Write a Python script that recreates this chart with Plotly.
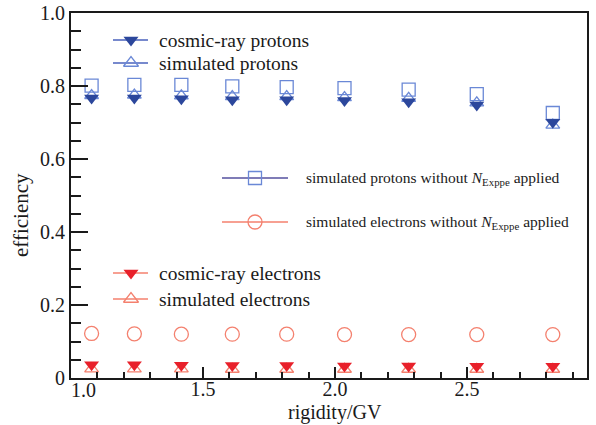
import plotly.graph_objects as go

# ---- data ----
rigidity = [1.078, 1.240, 1.418, 1.611, 1.817, 2.036, 2.279, 2.537, 2.825]
cr_protons = [0.767, 0.767, 0.765, 0.762, 0.762, 0.760, 0.757, 0.748, 0.701]
sim_protons = [0.774, 0.775, 0.773, 0.771, 0.771, 0.768, 0.766, 0.754, 0.693]
sim_protons_noN = [0.801, 0.803, 0.803, 0.799, 0.797, 0.794, 0.790, 0.778, 0.726]
cr_electrons = [0.036, 0.036, 0.035, 0.034, 0.034, 0.033, 0.033, 0.032, 0.032]
sim_electrons = [0.025, 0.025, 0.025, 0.024, 0.024, 0.024, 0.024, 0.024, 0.024]
sim_electrons_noN = [0.122, 0.121, 0.120, 0.120, 0.120, 0.119, 0.119, 0.119, 0.119]

x_ticks = [1.5, 2.0, 2.5]
x_ticktext = ["1.5", "2.0", "2.5"]
x_first_label = "1.0"
y_ticks = [0, 0.2, 0.4, 0.6, 0.8, 1.0]
y_ticktext = ["0", "0.2", "0.4", "0.6", "0.8", "1.0"]

BLUE_D = "#2c479c"
BLUE_L = "#6a88d6"
BLUE_LINE = "#4a62bc"
PURPLE_LINE = "#54519f"
RED_D = "#e8202a"
SALMON = "#f4806e"
SERIF = "'Liberation Serif', 'Times New Roman', serif"
TXT = "#1a1a1a"

W, H = 596, 425
L, R, T, B = 71, 587, 13, 378


def px(xp):
    return (xp - L) / (R - L)


def py(yp):
    return (B - yp) / (B - T)


fig = go.Figure()

series = [
    (sim_protons_noN, dict(symbol="square-open", size=13, color=BLUE_L, line=dict(width=1.3))),
    (sim_electrons_noN, dict(symbol="circle-open", size=14, color=SALMON, line=dict(width=1.3))),
    (sim_protons, dict(symbol="triangle-up-open", size=12, color=BLUE_L, line=dict(width=1.3))),
    (cr_protons, dict(symbol="triangle-down", size=13, color=BLUE_D)),
    (sim_electrons, dict(symbol="triangle-up-open", size=12, color=SALMON, line=dict(width=1.3))),
    (cr_electrons, dict(symbol="triangle-down", size=13, color=RED_D)),
]
for ys, mk in series:
    fig.add_trace(go.Scatter(x=rigidity, y=ys, mode="markers", marker=mk,
                             showlegend=False, cliponaxis=False))

# ---- legend glyphs on a pixel overlay axis ----
legend_items = [
    (113, 148, 131, 40, 157, dict(symbol="triangle-down", size=13, color=BLUE_D), BLUE_LINE,
     "cosmic-ray protons", 19.5),
    (113, 148, 131, 63, 157, dict(symbol="triangle-up-open", size=13, color=BLUE_L, line=dict(width=1.3)), BLUE_LINE,
     "simulated protons", 19.5),
    (222, 288, 255, 178, 304, dict(symbol="square-open", size=13, color=BLUE_L, line=dict(width=1.3)), PURPLE_LINE,
     "simulated protons without <i>N</i><sub>Exppe</sub> applied", 15.5),
    (222, 288, 255, 222, 304, dict(symbol="circle-open", size=14, color=SALMON, line=dict(width=1.3)), SALMON,
     "simulated electrons without <i>N</i><sub>Exppe</sub> applied", 15.5),
    (113, 148, 131, 273, 157, dict(symbol="triangle-down", size=13, color=RED_D), SALMON,
     "cosmic-ray electrons", 19.5),
    (113, 148, 131, 299, 157, dict(symbol="triangle-up-open", size=13, color=SALMON, line=dict(width=1.3)), SALMON,
     "simulated electrons", 19.5),
]
for x0, x1, mx, y, tx, mk, lc, txt, fs in legend_items:
    fig.add_shape(type="line", xref="x2", yref="y2", x0=x0, x1=x1, y0=y, y1=y,
                  line=dict(color=lc, width=1.5), layer="below")
    fig.add_trace(go.Scatter(x=[mx], y=[y], mode="markers", marker=mk, xaxis="x2", yaxis="y2",
                             showlegend=False, cliponaxis=False))
    fig.add_annotation(x=px(tx), y=py(y), xref="paper", yref="paper", text=txt, showarrow=False,
                       xanchor="left", yanchor="middle", font=dict(family=SERIF, size=fs, color=TXT))

# axis titles and the shifted "1.0" label
fig.add_annotation(x=px(335), y=py(412), xref="paper", yref="paper", text="rigidity/GV", showarrow=False,
                   xanchor="center", yanchor="middle", font=dict(family=SERIF, size=20, color=TXT))
fig.add_annotation(x=px(21), y=py(215), xref="paper", yref="paper", text="efficiency", showarrow=False,
                   textangle=-90, xanchor="center", yanchor="middle", font=dict(family=SERIF, size=21, color=TXT))
fig.add_annotation(x=px(83), y=py(390), xref="paper", yref="paper", text=x_first_label, showarrow=False,
                   xanchor="center", yanchor="middle", font=dict(family=SERIF, size=20, color=TXT))

axis_common = dict(showgrid=False, zeroline=False, showline=True, linecolor=TXT, linewidth=2,
                   mirror=True, ticks="inside", tickcolor=TXT, tickwidth=1.5, automargin=False,
                   tickfont=dict(family=SERIF, size=20, color=TXT))

fig.update_layout(
    template="none",
    width=W, height=H,
    margin=dict(l=L, r=W - R, t=T, b=H - B, pad=0, autoexpand=False),
    paper_bgcolor="white", plot_bgcolor="white",
    xaxis=dict(range=[1.0, 1.0 + (R - L) / 264.0], tickmode="array", tickvals=x_ticks, ticktext=x_ticktext,
               ticklen=11, ticklabelstandoff=-8,
               minor=dict(tickmode="linear", tick0=1.0, dtick=0.1, ticklen=6, ticks="inside",
                          tickcolor=TXT, tickwidth=1.5),
               **axis_common),
    yaxis=dict(range=[0, 1.0], tickmode="array", tickvals=y_ticks, ticktext=y_ticktext,
               ticklen=17, minor=dict(tickmode="linear", tick0=0, dtick=0.05, ticklen=10, ticks="inside",
                                      tickcolor=TXT, tickwidth=1.5),
               **axis_common),
    xaxis2=dict(overlaying="x", range=[L, R], visible=False, fixedrange=True, automargin=False),
    yaxis2=dict(overlaying="y", range=[B, T], visible=False, fixedrange=True, automargin=False),
    showlegend=False,
)

fig.write_html("out.html")
